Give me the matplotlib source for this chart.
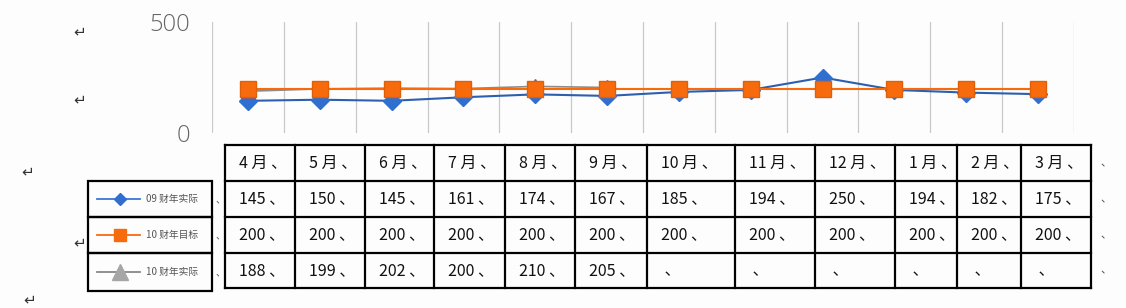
import matplotlib
matplotlib.use('Agg')
import matplotlib.pyplot as plt
from matplotlib.patches import Rectangle
import numpy as np

plt.rcParams['font.family'] = ['Noto Sans CJK SC', 'DejaVu Sans']

months = ['4 月', '5 月', '6 月', '7 月', '8 月', '9 月', '10 月', '11 月', '12 月', '1 月', '2 月', '3 月']
series_names = ['09 财年实际', '10 财年目标', '10 财年实际']
actual_09 = [145, 150, 145, 161, 174, 167, 185, 194, 250, 194, 182, 175]
target_10 = [200, 200, 200, 200, 200, 200, 200, 200, 200, 200, 200, 200]
actual_10 = [188, 199, 202, 200, 210, 205]

W, H = 1126, 308
BLUE = '#2f6fd0'
BLUE_LINE = '#2d5fb0'
ORANGE = '#f76b0d'
GREY = '#a6a6a6'
GREY_LINE = '#8c8c8c'
GRID = '#c9c9c9'

fig = plt.figure(figsize=(W / 100, H / 100), dpi=100)
fig.patch.set_facecolor('#fdfdfd')

# page overlay in pixel coordinates (table, legend boxes, paragraph marks)
pg = fig.add_axes([0, 0, 1, 1])
pg.set_xlim(0, W)
pg.set_ylim(H, 0)
pg.axis('off')
pg.patch.set_alpha(0)

# line chart
def fx(px):
    return px / W

def fy(py):
    return 1 - py / H

ax = fig.add_axes([fx(212), fy(133), fx(1074) - fx(212), fy(22) - fy(133)])
ax.patch.set_alpha(0)
x = np.arange(len(months))
ax.plot(x, actual_09, color=BLUE_LINE, lw=1.5, marker='D', ms=9,
        mfc=BLUE, mec=BLUE, zorder=3)
ax.plot(np.arange(len(actual_10)), actual_10, color=GREY_LINE, lw=1.2, marker='^', ms=10,
        mfc=GREY, mec='#7a5a8a', zorder=4)
ax.plot(x, target_10, color=ORANGE, lw=1.5, marker='s', ms=11,
        mfc=ORANGE, mec='#e0600a', zorder=5)
ax.set_xlim(-0.5, len(months) - 0.5)
ax.set_ylim(0, 500)
for g in np.arange(-0.5, len(months), 1.0):
    ax.axvline(g, color=GRID, lw=0.9, zorder=1)
ax.set_xticks([])
ax.set_yticks([0, 500])
ax.tick_params(axis='y', length=0, pad=16, labelsize=17, labelcolor='#666666')
for lab in ax.get_yticklabels():
    lab.set_fontfamily(['Open Sans', 'DejaVu Sans'])
    lab.set_fontweight('light')
for s in ax.spines.values():
    s.set_visible(False)

# data table
col_edges = [225, 295, 365, 434, 505, 575, 647, 735, 815, 895, 957, 1021, 1091]
row_edges = [145, 181, 217, 253, 288]
lw_t = 1.6
for xe in col_edges:
    pg.plot([xe, xe], [row_edges[0], row_edges[-1]], color='black', lw=lw_t)
for ye in row_edges:
    pg.plot([col_edges[0], col_edges[-1]], [ye, ye], color='black', lw=lw_t)

rows = [months,
        [str(v) for v in actual_09],
        [str(v) for v in target_10],
        [str(v) for v in actual_10] + [''] * (len(months) - len(actual_10))]
for r, vals in enumerate(rows):
    yc = (row_edges[r] + row_edges[r + 1]) / 2
    for c, v in enumerate(vals):
        txt = (v + ' 、') if v else ' 、'
        pg.text(col_edges[c] + 14, yc, txt, fontsize=11.5, va='center', ha='left',
                color='#111111')
    pg.text(1100, yc, '、', fontsize=8, va='center', ha='left', color='#555555')

# legend boxes
leg_edges = [181, 217, 253, 291]
styles = [dict(color='#3b78d8', marker='D', ms=6, mfc=BLUE, mec=BLUE),
          dict(color=ORANGE, marker='s', ms=9, mfc=ORANGE, mec=ORANGE),
          dict(color='#888888', marker='^', ms=11, mfc=GREY, mec=GREY)]
for i, name in enumerate(series_names):
    y0, y1 = leg_edges[i], leg_edges[i + 1]
    pg.add_patch(Rectangle((88, y0), 124, y1 - y0, fill=False, ec='black', lw=1.6))
    yc = (y0 + y1) / 2
    pg.plot([97, 120, 140], [yc, yc, yc], lw=1.3, markevery=[1], **styles[i])
    pg.text(146, yc, name, fontsize=7, va='center', ha='left', color='#555555')
    pg.text(216, yc, '、', fontsize=7, va='center', ha='left', color='#555555')

# paragraph marks
for px, py in [(80, 32), (80, 100), (28, 172), (80, 243), (30, 300)]:
    pg.text(px, py, '↵', fontsize=11, va='center', ha='center', color='#333333',
            family='DejaVu Sans')

fig.savefig('out.png', dpi=100, facecolor=fig.get_facecolor())
